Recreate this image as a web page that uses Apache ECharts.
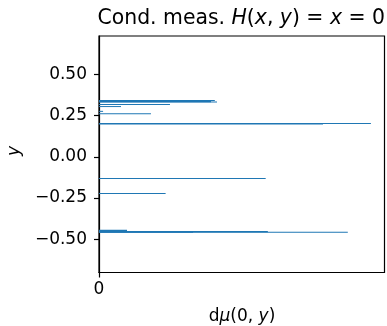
<!DOCTYPE html>
<html>
<head>
<meta charset="utf-8">
<script src="https://cdn.jsdelivr.net/npm/echarts@6/dist/echarts.min.js"></script>
<style>
  html, body { margin: 0; padding: 0; background: #fff; }
  #chart { width: 387px; height: 326px; }
</style>
</head>
<body>
<div id="chart"></div>
<script>
// Conditional measure at x = 0: horizontal bars along y, length = density dμ(0, y)
const barY = [0.342, 0.337, 0.332, 0.317, 0.305, 0.276, 0.262, 0.203, 0.200,
              -0.131, -0.222, -0.447, -0.455, -0.453, -0.456];
const barValue = [0.426, 0.412, 0.434, 0.261, 0.081, 0.015, 0.191, 1.000, 0.824,
                  0.613, 0.245, 0.103, 0.346, 0.621, 0.915];
const barSpan = [0.005, 0.012, 0.005, 0.005, 0.005, 0.005, 0.005, 0.004, 0.009,
                 0.005, 0.005, 0.010, 0.010, 0.008, 0.004];
const yTicks = [-0.5, -0.25, 0, 0.25, 0.5];
const xTicks = [0];

const FONT = 'DejaVu Sans';
const BLUE = '#1f77b4';

const data = barY.map((y, i) => [barValue[i], y, barSpan[i]]);

const fmtY = v => (v < 0 ? '\u2212' : '') + Math.abs(v).toFixed(2);

const chart = echarts.init(document.getElementById('chart'), null, { renderer: 'canvas' });

function richSet(size) {
  return {
    n: { fontFamily: FONT, fontSize: size, fontWeight: 'normal', color: '#000' },
    i: { fontFamily: FONT, fontSize: size, fontWeight: 'normal', fontStyle: 'italic', color: '#000' }
  };
}

chart.setOption({
  animation: false,
  backgroundColor: '#fff',
  grid: {
    left: 99, right: 2.5, top: 36, bottom: 53.5,
    show: true, borderColor: '#000', borderWidth: 1.2, backgroundColor: 'transparent'
  },
  xAxis: {
    type: 'value', min: 0, max: 1.05,
    splitLine: { show: false },
    axisLine: { show: true, onZero: false, lineStyle: { color: '#000', width: 1.2 } },
    axisTick: { show: true, inside: false, length: 5, lineStyle: { color: '#000', width: 1.2 }, customValues: xTicks },
    axisLabel: { show: true, margin: 9, fontFamily: FONT, fontSize: 17, color: '#000', customValues: xTicks, formatter: v => String(v) }
  },
  yAxis: {
    type: 'value', min: -0.701, max: 0.732,
    splitLine: { show: false },
    axisLine: { show: true, onZero: false, lineStyle: { color: '#000', width: 1.2 } },
    axisTick: { show: true, inside: false, length: 5, lineStyle: { color: '#000', width: 1.2 }, customValues: yTicks },
    axisLabel: { show: true, margin: 12, fontFamily: FONT, fontSize: 17, color: '#000', customValues: yTicks, formatter: fmtY }
  },
  graphic: [
    {
      // chart title
      type: 'text', x: 97.5, y: 19,
      style: {
        text: '{n|Cond. meas.\u00a0}{i|H}{n|(}{i|x}{n|,\u00a0}{i|y}{n|)\u00a0=\u00a0}{i|x}{n|\u00a0=\u00a00}',
        align: 'left', verticalAlign: 'middle',
        rich: richSet(20.4)
      }
    },
    {
      type: 'text', x: 242, y: 317,
      style: {
        text: '{n|d}{i|\u03bc}{n|(0,\u00a0}{i|y}{n|)}',
        align: 'center', verticalAlign: 'middle',
        rich: richSet(17)
      }
    },
    {
      type: 'text', x: 15, y: 151, rotation: Math.PI / 2,
      style: {
        text: 'y', font: 'italic 17px "DejaVu Sans"', fill: '#000',
        align: 'center', verticalAlign: 'middle'
      }
    }
  ],
  series: [{
    type: 'custom',
    coordinateSystem: 'cartesian2d',
    encode: { x: 0, y: 1 },
    data: data,
    renderItem: function (params, api) {
      const v = api.value(0), y = api.value(1), h = api.value(2);
      const p0 = api.coord([0, y + h / 2]);
      const p1 = api.coord([v, y - h / 2]);
      return {
        type: 'rect',
        shape: { x: p0[0], y: p0[1], width: p1[0] - p0[0], height: Math.max(1, p1[1] - p0[1]) },
        style: { fill: BLUE }
      };
    }
  }]
});
</script>
</body>
</html>
